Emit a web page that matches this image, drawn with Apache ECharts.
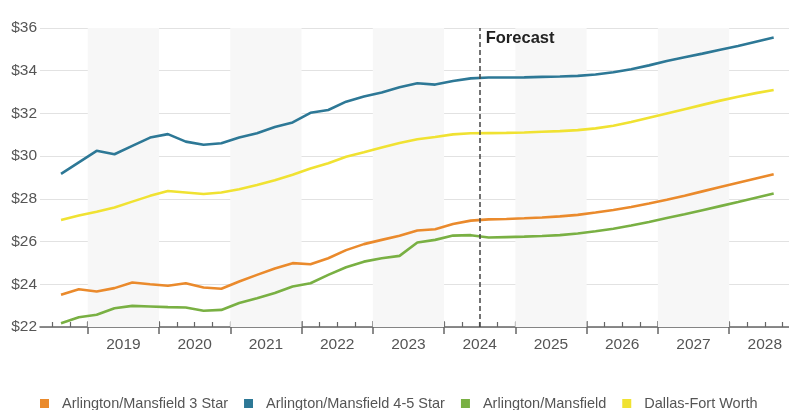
<!DOCTYPE html>
<html><head><meta charset="utf-8">
<script src="https://cdn.jsdelivr.net/npm/echarts@6/dist/echarts.min.js"></script>
<style>html,body{margin:0;padding:0;background:#fff}#c{width:789px;height:410px}</style>
</head><body><div id="c"></div>
<script>
// Quarterly periods (2018 Q3 .. 2028 Q3)
const periods = [
 "2018 Q3","2018 Q4","2019 Q1","2019 Q2","2019 Q3","2019 Q4","2020 Q1","2020 Q2","2020 Q3","2020 Q4",
 "2021 Q1","2021 Q2","2021 Q3","2021 Q4","2022 Q1","2022 Q2","2022 Q3","2022 Q4","2023 Q1","2023 Q2",
 "2023 Q3","2023 Q4","2024 Q1","2024 Q2","2024 Q3","2024 Q4","2025 Q1","2025 Q2","2025 Q3","2025 Q4",
 "2026 Q1","2026 Q2","2026 Q3","2026 Q4","2027 Q1","2027 Q2","2027 Q3","2027 Q4","2028 Q1","2028 Q2","2028 Q3"];
const am3Star = [23.51,23.77,23.66,23.82,24.08,24.00,23.93,24.05,23.85,23.79,
 24.13,24.44,24.74,24.99,24.94,25.22,25.60,25.88,26.08,26.27,
 26.52,26.58,26.82,26.98,27.04,27.06,27.09,27.13,27.18,27.25,
 27.36,27.48,27.62,27.78,27.96,28.15,28.35,28.55,28.75,28.95,29.15];
const am45Star = [29.17,29.71,30.25,30.09,30.48,30.87,31.03,30.68,30.53,30.60,
 30.87,31.07,31.36,31.58,32.03,32.16,32.55,32.79,32.98,33.23,
 33.41,33.35,33.52,33.64,33.68,33.68,33.69,33.71,33.73,33.76,
 33.82,33.93,34.07,34.25,34.45,34.63,34.80,34.98,35.16,35.36,35.56];
const amAll = [22.18,22.46,22.57,22.88,22.99,22.96,22.93,22.91,22.76,22.80,
 23.12,23.35,23.59,23.90,24.05,24.44,24.80,25.06,25.22,25.33,
 25.96,26.08,26.28,26.30,26.19,26.21,26.23,26.26,26.30,26.38,
 26.48,26.60,26.75,26.92,27.10,27.28,27.47,27.66,27.85,28.05,28.25];
const dfw = [27.01,27.22,27.40,27.60,27.87,28.14,28.37,28.30,28.23,28.30,
 28.45,28.65,28.87,29.13,29.42,29.67,29.97,30.18,30.41,30.62,
 30.79,30.90,31.02,31.07,31.08,31.09,31.11,31.14,31.17,31.22,
 31.30,31.42,31.60,31.80,32.00,32.20,32.40,32.60,32.78,32.95,33.10];
const yearLabels = [2019,2020,2021,2022,2023,2024,2025,2026,2027,2028];
const shadedYears = [2019,2021,2023,2025,2027];
const forecastStart = 2024.5;

const seriesNames = ["Arlington/Mansfield 3 Star","Arlington/Mansfield 4-5 Star","Arlington/Mansfield","Dallas-Fort Worth"];
const colors = ["#ea8a2c","#2d7896","#79b043","#f0e232"];

const xOf = p => { const [y,q] = p.split(" "); return +y + (+q.slice(1) - 0.5) / 4; };
const pts = arr => arr.map((v,i) => [xOf(periods[i]), v]);

const qTicks = []; for (let y = 2018.5; y <= 2028.76; y += 0.25) qTicks.push(+y.toFixed(2));
const yearTicks = yearLabels.slice();
const yearMids = yearLabels.map(y => y + 0.5);

const font = "Liberation Sans, Arial, sans-serif";
const chart = echarts.init(document.getElementById('c'));
const xMin = 2018.33, xMax = 2028.84;
chart.setOption({
  animation:false,
  color: colors,
  textStyle:{fontFamily:font},
  grid:{left:40,right:0,top:28,bottom:83},
  legend:{
    data: seriesNames, left:35, top:391, icon:'rect', itemWidth:9, itemHeight:9, itemGap:16,
    textStyle:{fontSize:14.5,color:'#555',fontFamily:font,padding:[0,0,0,8]}
  },
  xAxis:[{
    type:'value', min:xMin, max:xMax,
    axisLine:{show:true,lineStyle:{color:'#666',width:1.5}},
    axisTick:{show:true,inside:true,length:5,customValues:qTicks,lineStyle:{color:'#666',width:1.2}},
    axisLabel:{customValues:yearMids,formatter:v=>String(Math.floor(v)),fontSize:15.5,color:'#555',margin:10,fontFamily:font},
    splitLine:{show:false}
  },{
    type:'value', min:xMin, max:xMax, position:'bottom',
    axisLine:{show:false},
    axisTick:{show:true,inside:false,length:7,customValues:yearTicks,lineStyle:{color:'#666',width:1.5}},
    axisLabel:{show:false}, splitLine:{show:false}
  },{
    type:'value', min:xMin, max:xMax, position:'bottom',
    axisLine:{show:false},
    axisTick:{show:true,inside:true,length:6,customValues:yearTicks,lineStyle:{color:'#666',width:1.5}},
    axisLabel:{show:false}, splitLine:{show:false}
  }],
  yAxis:{
    type:'value', min:22, max:36, interval:2,
    axisLine:{show:false}, axisTick:{show:false},
    axisLabel:{formatter:v=>'$'+v,fontSize:15.5,color:'#555',margin:3,fontFamily:font},
    splitLine:{lineStyle:{color:'#e2e2e2',width:1}}
  },
  series:[
    {type:'line', name:'_bg', data:[], z:1, silent:true,
     markArea:{silent:true,itemStyle:{color:'#f7f7f7'},data:shadedYears.map(y=>[{xAxis:y},{xAxis:y+1}])},
     markLine:{silent:true,symbol:['none','none'],label:{show:false},
       lineStyle:{color:'#444',type:[5,3],width:1.5},data:[{xAxis:forecastStart}]},
     markPoint:{silent:true,symbol:'circle',symbolSize:0,
       label:{show:true,position:[6,2],formatter:'Forecast',fontSize:16.5,fontWeight:'bold',color:'#222',fontFamily:font},
       data:[{coord:[forecastStart,36]}]}
    },
    ...[am3Star,am45Star,amAll,dfw].map((d,i)=>({
      type:'line', name:seriesNames[i], data:pts(d), symbol:'none', z:3,
      lineStyle:{width:2.6,color:colors[i]}, itemStyle:{color:colors[i]}
    }))
  ]
});
</script></body></html>
